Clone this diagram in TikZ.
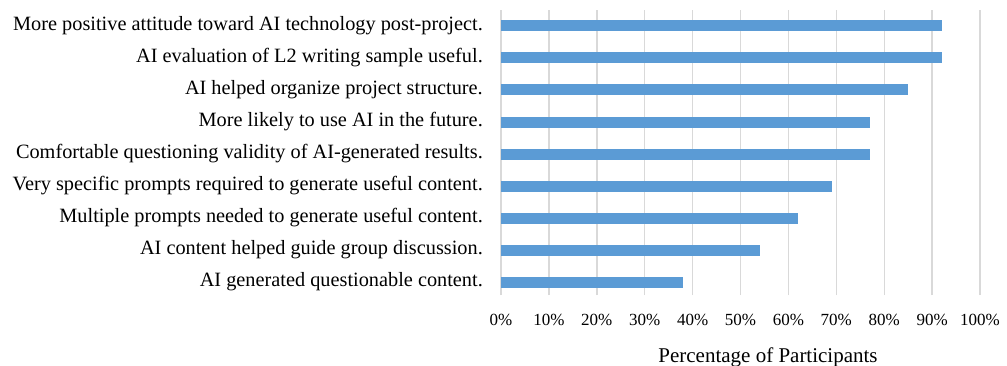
\documentclass[tikz,border=0pt]{standalone}
\usepackage{fontspec}
\setmainfont{Liberation Serif}
\usepackage{xcolor}
\definecolor{barblue}{HTML}{5B9BD5}
\definecolor{gridgray}{HTML}{D9D9D9}
\usetikzlibrary{positioning}

\begin{document}
\begin{tikzpicture}[x=1pt,y=1pt,
    catlabel/.style={anchor=east,inner sep=0pt,font=\fontsize{20.3}{24}\selectfont},
    ticklabel/.style={inner sep=0pt,font=\fontsize{17}{20}\selectfont},
    gridln/.style={draw=gridgray,line width=1.4pt},
    bar/.style={fill=barblue,draw=none}]
    \useasboundingbox (0,0) rectangle (1007,365);
    % Gridlines
    \draw[gridln] (501,70) -- (501,355);
    \draw[gridln] (548.9,70) -- (548.9,355);
    \draw[gridln] (596.8,70) -- (596.8,355);
    \draw[gridln] (644.7,70) -- (644.7,355);
    \draw[gridln] (692.6,70) -- (692.6,355);
    \draw[gridln] (740.5,70) -- (740.5,355);
    \draw[gridln] (788.4,70) -- (788.4,355);
    \draw[gridln] (836.3,70) -- (836.3,355);
    \draw[gridln] (884.2,70) -- (884.2,355);
    \draw[gridln] (932.1,70) -- (932.1,355);
    \draw[gridln] (980,70) -- (980,355);
    % Bars
    \draw[bar] (501,333.5) rectangle (941.7,344.5);
    \draw[bar] (501,301.5) rectangle (941.7,312.5);
    \draw[bar] (501,269.5) rectangle (908.2,280.5);
    \draw[bar] (501,237.5) rectangle (869.8,248.5);
    \draw[bar] (501,205.5) rectangle (869.8,216.5);
    \draw[bar] (501,173.5) rectangle (831.5,184.5);
    \draw[bar] (501,141.5) rectangle (798.0,152.5);
    \draw[bar] (501,109.5) rectangle (759.7,120.5);
    \draw[bar] (501,77.5) rectangle (683.0,88.5);
    % Category labels
    \node[catlabel] (attitude) at (483,339) {More positive attitude toward AI technology post-project.};
    \node[catlabel] (evaluation) at (483,307) {AI evaluation of L2 writing sample useful.};
    \node[catlabel] (organize) at (483,275) {AI helped organize project structure.};
    \node[catlabel] (future) at (483,243) {More likely to use AI in the future.};
    \node[catlabel] (validity) at (483,211) {Comfortable questioning validity of AI-generated results.};
    \node[catlabel] (specific) at (483,179) {Very specific prompts required to generate useful content.};
    \node[catlabel] (multiple) at (483,147) {Multiple prompts needed to generate useful content.};
    \node[catlabel] (discussion) at (483,115) {AI content helped guide group discussion.};
    \node[catlabel] (questionable) at (483,83) {AI generated questionable content.};
    % Axis ticks
    \node[ticklabel] (t0) at (501,45) {0\%};
    \node[ticklabel] (t10) at (548.9,45) {10\%};
    \node[ticklabel] (t20) at (596.8,45) {20\%};
    \node[ticklabel] (t30) at (644.7,45) {30\%};
    \node[ticklabel] (t40) at (692.6,45) {40\%};
    \node[ticklabel] (t50) at (740.5,45) {50\%};
    \node[ticklabel] (t60) at (788.4,45) {60\%};
    \node[ticklabel] (t70) at (836.3,45) {70\%};
    \node[ticklabel] (t80) at (884.2,45) {80\%};
    \node[ticklabel] (t90) at (932.1,45) {90\%};
    \node[ticklabel] (t100) at (980,45) {100\%};
    % Axis title
    \node[anchor=base,inner sep=0pt,font=\fontsize{21}{24}\selectfont] (xtitle) at (768,3) {Percentage of Participants};
\end{tikzpicture}
\end{document}
